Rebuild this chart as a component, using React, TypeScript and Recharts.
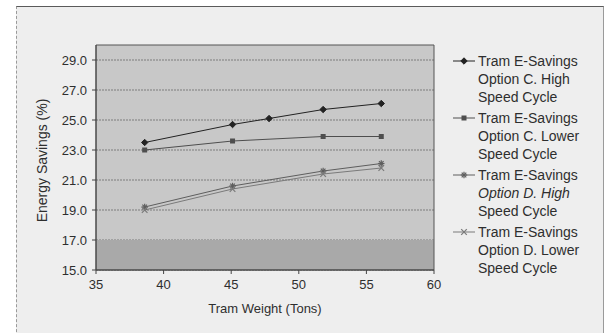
import React from "react";
import {
  LineChart,
  Line,
  XAxis,
  YAxis,
  CartesianGrid,
  ReferenceArea,
} from "recharts";

// Tram weight (tons) at which each option was simulated
const weightsCHigh = [38.6, 45.1, 47.8, 51.8, 56.1];
const weightsOther = [38.6, 45.1, 51.8, 56.1];

// Energy savings (%) per option / speed cycle
const savingsCHigh = [23.5, 24.7, 25.1, 25.7, 26.1];
const savingsCLow = [23.0, 23.6, 23.9, 23.9];
const savingsDHigh = [19.2, 20.6, 21.6, 22.1];
const savingsDLow = [19.0, 20.4, 21.4, 21.8];

// Axis ticks
const xTicks = [35, 40, 45, 50, 55, 60];
const yTicks = [15, 17, 19, 21, 23, 25, 27, 29];

// Legend text, one entry per series, broken into its printed lines
const legendCHigh = ["Tram E-Savings", "Option C. High", "Speed Cycle"];
const legendCLow = ["Tram E-Savings", "Option C. Lower", "Speed Cycle"];
const legendDHigh = ["Tram E-Savings", "Option D. High", "Speed Cycle"];
const legendDLow = ["Tram E-Savings", "Option D. Lower", "Speed Cycle"];

const FONT = "'Liberation Sans', Arial, Helvetica, sans-serif";
const TEXT = "#2e2e2e";

type Pt = { w: number; v: number };
const toPoints = (xs: number[], ys: number[]): Pt[] =>
  xs.map((w, i) => ({ w, v: ys[i] }));

type MarkerKind = "diamond" | "square" | "star" | "cross";

const Marker = ({
  kind,
  cx,
  cy,
  color,
}: {
  kind: MarkerKind;
  cx: number;
  cy: number;
  color: string;
}) => {
  const s = 3.2;
  if (kind === "diamond")
    return (
      <polygon
        points={`${cx},${cy - s} ${cx + s},${cy} ${cx},${cy + s} ${cx - s},${cy}`}
        fill={color}
        stroke={color}
      />
    );
  if (kind === "square")
    return (
      <rect x={cx - 2.5} y={cy - 2.5} width={5} height={5} fill={color} />
    );
  if (kind === "star")
    return (
      <g stroke={color} strokeWidth={1.2}>
        <line x1={cx - s} y1={cy} x2={cx + s} y2={cy} />
        <line x1={cx - 2.3} y1={cy - 2.3} x2={cx + 2.3} y2={cy + 2.3} />
        <line x1={cx - 2.3} y1={cy + 2.3} x2={cx + 2.3} y2={cy - 2.3} />
        <line x1={cx} y1={cy - s} x2={cx} y2={cy + s} />
      </g>
    );
  return (
    <g stroke={color} strokeWidth={1.2}>
      <line x1={cx - 2.8} y1={cy - 2.8} x2={cx + 2.8} y2={cy + 2.8} />
      <line x1={cx - 2.8} y1={cy + 2.8} x2={cx + 2.8} y2={cy - 2.8} />
    </g>
  );
};

const series = [
  {
    key: "cHigh",
    data: toPoints(weightsCHigh, savingsCHigh),
    color: "#222222",
    marker: "diamond" as MarkerKind,
    legend: legendCHigh,
    italic: false,
  },
  {
    key: "cLow",
    data: toPoints(weightsOther, savingsCLow),
    color: "#4e4e4e",
    marker: "square" as MarkerKind,
    legend: legendCLow,
    italic: false,
  },
  {
    key: "dHigh",
    data: toPoints(weightsOther, savingsDHigh),
    color: "#5e5e5e",
    marker: "star" as MarkerKind,
    legend: legendDHigh,
    italic: true,
  },
  {
    key: "dLow",
    data: toPoints(weightsOther, savingsDLow),
    color: "#7a7a7a",
    marker: "cross" as MarkerKind,
    legend: legendDLow,
    italic: false,
  },
];

const LegendBox = () => (
  <div style={{ fontFamily: FONT, fontSize: 14, color: TEXT }}>
    {series.map((s) => (
      <div
        key={s.key}
        style={{ display: "flex", alignItems: "flex-start", marginBottom: 3 }}
      >
        <svg width={24} height={18} style={{ flex: "none" }}>
          <line x1={1} y1={9} x2={23} y2={9} stroke={s.color} strokeWidth={1} />
          <Marker kind={s.marker} cx={12} cy={9} color={s.color} />
        </svg>
        <div style={{ marginLeft: 2, lineHeight: "18px" }}>
          {s.legend.map((t, i) => (
            <div
              key={i}
              style={{ fontStyle: s.italic && i === 1 ? "italic" : "normal" }}
            >
              {t}
            </div>
          ))}
        </div>
      </div>
    ))}
  </div>
);

export default function App() {
  return (
    <div
      style={{
        position: "absolute",
        left: 0,
        top: 0,
        width: 606,
        height: 333,
        background: "#ffffff",
        overflow: "hidden",
      }}
    >
      <div
        style={{
          position: "absolute",
          left: 16,
          top: 6,
          width: 586,
          height: 340,
          background: "#eeeeee",
          borderTop: "1px solid #5a5a5a",
          borderLeft: "1px dashed #9a9a9a",
          borderRight: "1px solid #9a9a9a",
        }}
      />
      <div style={{ position: "absolute", left: 0, top: 0 }}>
        <LineChart
          width={606}
          height={333}
          margin={{ top: 45, right: 172, bottom: 0, left: 0 }}
        >
          <CartesianGrid
            horizontal
            vertical={false}
            fill="#c8c8c8"
            fillOpacity={1}
            stroke="#7d7d7d"
            strokeDasharray="2 1"
            horizontalValues={yTicks}
          />
          <ReferenceArea
            x1={35}
            x2={60}
            y1={15}
            y2={17}
            fill="#a9a9a9"
            fillOpacity={1}
            stroke="none"
          />
          <ReferenceArea
            x1={35}
            x2={60}
            y1={15}
            y2={30}
            fill="none"
            stroke="#555555"
            strokeWidth={1}
          />
          <XAxis
            dataKey="w"
            type="number"
            domain={[35, 60]}
            ticks={xTicks}
            allowDataOverflow
            height={63}
            tickSize={4}
            tickMargin={6}
            stroke="#444444"
            tick={{ fill: TEXT, fontSize: 13, fontFamily: FONT }}
            label={{
              value: "Tram Weight (Tons)",
              position: "insideBottom",
              offset: 20,
              fill: TEXT,
              fontSize: 13,
              fontFamily: FONT,
            }}
          />
          <YAxis
            type="number"
            domain={[15, 30]}
            ticks={yTicks}
            allowDataOverflow
            width={96}
            tickSize={4}
            tickMargin={5}
            stroke="#444444"
            tickFormatter={(v: number) => v.toFixed(1)}
            tick={{ fill: TEXT, fontSize: 13, fontFamily: FONT }}
            label={{
              value: "Energy Savings (%)",
              angle: -90,
              position: "center",
              dx: -6,
              dy: 3,
              fill: TEXT,
              fontSize: 14,
              fontFamily: FONT,
            }}
          />
          {series.map((s) => (
            <Line
              key={s.key}
              data={s.data}
              dataKey="v"
              name={s.legend.join(" ")}
              stroke={s.color}
              strokeWidth={1}
              isAnimationActive={false}
              dot={(p: any) => (
                <Marker
                  key={`${s.key}-${p.index}`}
                  kind={s.marker}
                  cx={p.cx}
                  cy={p.cy}
                  color={s.color}
                />
              )}
              activeDot={false}
            />
          ))}
        </LineChart>
      </div>
      <div style={{ position: "absolute", left: 452, top: 52, width: 150 }}>
        <LegendBox />
      </div>
    </div>
  );
}
